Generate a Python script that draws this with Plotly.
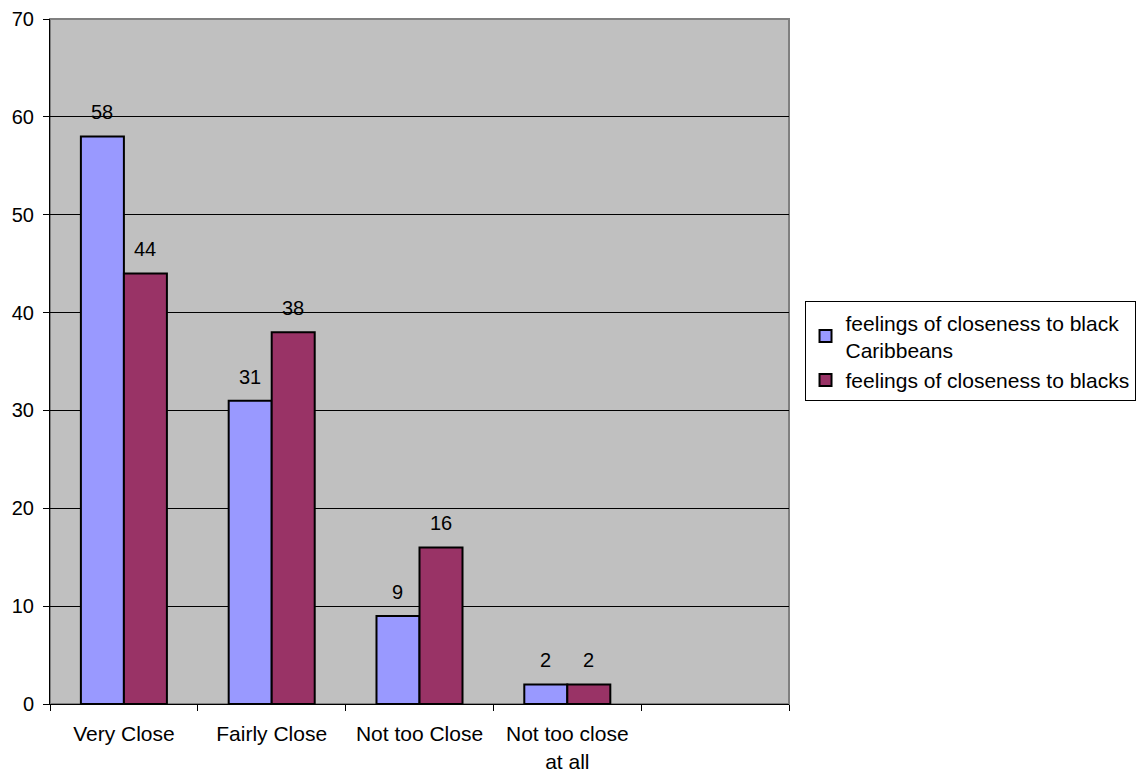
import plotly.graph_objects as go

categories = ["Very Close", "Fairly Close", "Not too Close", "Not too close<br>at all"]
empty_slot = [" "]
series_names = ["feelings of closeness to black<br>Caribbeans", "feelings of closeness to blacks"]
caribbeans = [58, 31, 9, 2]
blacks = [44, 38, 16, 2]
colors = ["#9999FF", "#993366"]

FONT = "Liberation Sans, Arial, sans-serif"
W, H = 1142, 774
ML, MR, MT, MB = 50, 353, 19, 70
BARGAP = 0.418
n_slots = len(categories) + len(empty_slot)
slot_px = (W - ML - MR) / n_slots
bar_px = slot_px * (1 - BARGAP) / 2

fig = go.Figure()
for name, vals, col in zip(series_names, [caribbeans, blacks], colors):
    fig.add_trace(go.Bar(
        x=categories, y=vals, name=name,
        marker=dict(color=col, line=dict(color="black", width=2)),
    ))

annotations = []
for i, vals in enumerate([caribbeans, blacks]):
    shift = (-1 if i == 0 else 1) * bar_px / 2
    for c, v in zip(categories, vals):
        annotations.append(dict(
            x=c, y=v, xref="x", yref="y", text=str(v), showarrow=False,
            xshift=shift, yshift=11, yanchor="bottom",
            font=dict(family=FONT, size=20, color="black"),
        ))

fig.update_layout(
    width=W, height=H,
    margin=dict(l=ML, r=MR, t=MT, b=MB, autoexpand=False),
    barmode="group", bargap=BARGAP, bargroupgap=0,
    paper_bgcolor="white", plot_bgcolor="#C0C0C0",
    font=dict(family=FONT, size=20, color="black"),
    showlegend=True,
    legend=dict(
        x=1.021, y=0.588, xanchor="left", yanchor="top",
        bgcolor="white", bordercolor="black", borderwidth=1,
        font=dict(family=FONT, size=21, color="black"),
        itemwidth=30, tracegroupgap=1,
    ),
    annotations=annotations,
    shapes=[dict(type="rect", xref="paper", yref="paper", x0=0, y0=0, x1=1, y1=1,
                 line=dict(color="#808080", width=2), layer="below")],
)
fig.update_xaxes(
    type="category", categoryorder="array", categoryarray=categories + empty_slot,
    range=[-0.5, n_slots - 0.5], tickson="boundaries", automargin=False,
    ticks="outside", ticklen=6, tickcolor="black",
    showline=True, linecolor="black", linewidth=1,
    showgrid=False, ticklabelstandoff=11,
    tickfont=dict(family=FONT, size=21, color="black"),
)
fig.update_yaxes(
    range=[0, 70], dtick=10, ticks="outside", ticklen=6, tickcolor="black",
    showline=True, linecolor="black", linewidth=1, automargin=False,
    showgrid=True, gridcolor="black", gridwidth=1,
    zeroline=False, ticklabelstandoff=5,
    tickfont=dict(family=FONT, size=20, color="black"),
)

fig.write_html("out.html")
